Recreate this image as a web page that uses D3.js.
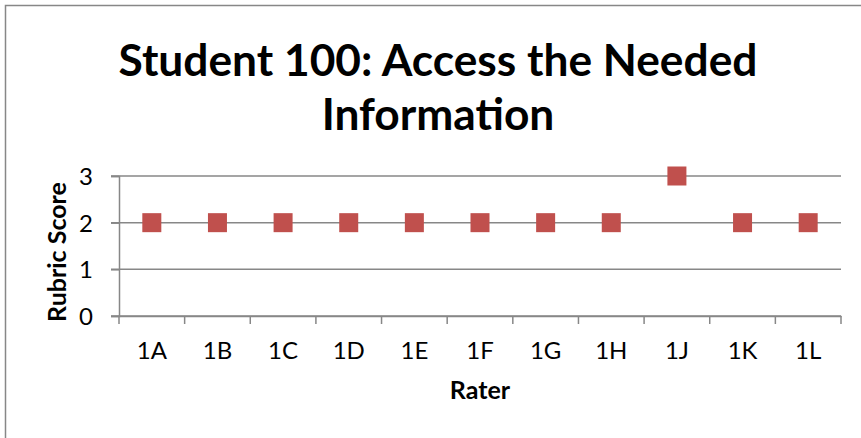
<!DOCTYPE html>
<html>
<head>
<meta charset="utf-8">
<script src="https://cdn.jsdelivr.net/npm/d3@7"></script>
<style>
  body { margin: 0; background: #fff; }
  text { font-family: Lato, "Open Sans", sans-serif; fill: #000; }
</style>
</head>
<body>
<div id="chart"></div>
<script>
const raters = ['1A', '1B', '1C', '1D', '1E', '1F', '1G', '1H', '1J', '1K', '1L'];
const scores = [2, 2, 2, 2, 2, 2, 2, 2, 3, 2, 2];
const yTicks = [0, 1, 2, 3];
const titleLines = ['Student 100: Access the Needed', 'Information'];

const width = 861, height = 438,
      margin = {top: 176, right: 20, bottom: 122, left: 119},
      plotWidth = width - margin.left - margin.right,
      plotHeight = height - margin.top - margin.bottom,
      grey = '#878787';

const svg = d3.select('#chart').append('svg')
    .attr('width', width).attr('height', height);

// outer frame
svg.append('rect')
   .attr('x', 5.5).attr('y', 5.5)
   .attr('width', width + 10).attr('height', height + 10)
   .attr('fill', 'none').attr('stroke', grey).attr('stroke-width', 1.5);

// title
let title = svg.append('text')
    .attr('text-anchor', 'middle')
    .attr('font-weight', 'bold')
    .attr('font-size', 40);
title.selectAll('tspan').data(titleLines).enter().append('tspan')
     .attr('x', 438)
     .attr('y', (d, i) => 76 + i * 54)
     .text(d => d);
// stretch to match width of first line
let firstLen = title.select('tspan').node().getComputedTextLength();
title.attr('font-size', 40 * 639 / firstLen);

const plot = svg.append('g')
    .attr('transform', `translate(${margin.left}, ${margin.top})`);

const xScale = d3.scaleBand().domain(raters).range([0, plotWidth]);
const yScale = d3.scaleLinear().domain([0, 3]).range([plotHeight, 0]);

// gridlines
plot.append('g').selectAll('line')
    .data(yTicks).enter().append('line')
    .attr('x1', -8).attr('x2', plotWidth)
    .attr('y1', d => yScale(d)).attr('y2', d => yScale(d))
    .attr('stroke', grey).attr('stroke-width', 1.5);

// y axis
let yAxisGroup = plot.append('g')
    .call(d3.axisLeft(yScale).tickValues(yTicks).tickFormat(d3.format('d')).tickSize(8));
yAxisGroup.selectAll('text')
    .attr('x', -26).attr('dy', '0.35em')
    .attr('font-size', 24).attr('font-family', 'Lato, sans-serif');

// x axis
let xAxisGroup = plot.append('g')
    .attr('transform', `translate(0, ${plotHeight})`)
    .call(d3.axisBottom(xScale).tickSize(0));
xAxisGroup.selectAll('text')
    .attr('y', 43).attr('dy', 0)
    .attr('font-size', 24).attr('font-family', 'Lato, sans-serif');
// tick marks at category boundaries
xAxisGroup.selectAll('line.bound')
    .data(raters.concat(['end'])).enter().append('line')
    .attr('class', 'bound')
    .attr('x1', (d, i) => i * xScale.step()).attr('x2', (d, i) => i * xScale.step())
    .attr('y1', 0).attr('y2', 8);

svg.selectAll('.domain, .tick line, line.bound')
   .attr('stroke', grey).attr('stroke-width', 1.5);

// axis labels
svg.append('text')
   .attr('x', margin.left + plotWidth / 2)
   .attr('y', 399)
   .attr('text-anchor', 'middle')
   .attr('font-weight', 'bold')
   .attr('font-size', 25)
   .text('Rater');
svg.append('text')
   .attr('transform', `translate(66, 252) rotate(-90)`)
   .attr('text-anchor', 'middle')
   .attr('font-weight', 'bold')
   .attr('font-size', 25)
   .text('Rubric Score');

// markers
let s = 19;
plot.append('g').selectAll('rect')
    .data(scores).enter().append('rect')
    .attr('x', (d, i) => xScale(raters[i]) + xScale.bandwidth() / 2 - s / 2)
    .attr('y', d => yScale(d) - s / 2)
    .attr('width', s).attr('height', s)
    .attr('fill', '#C0504D');
</script>
</body>
</html>
